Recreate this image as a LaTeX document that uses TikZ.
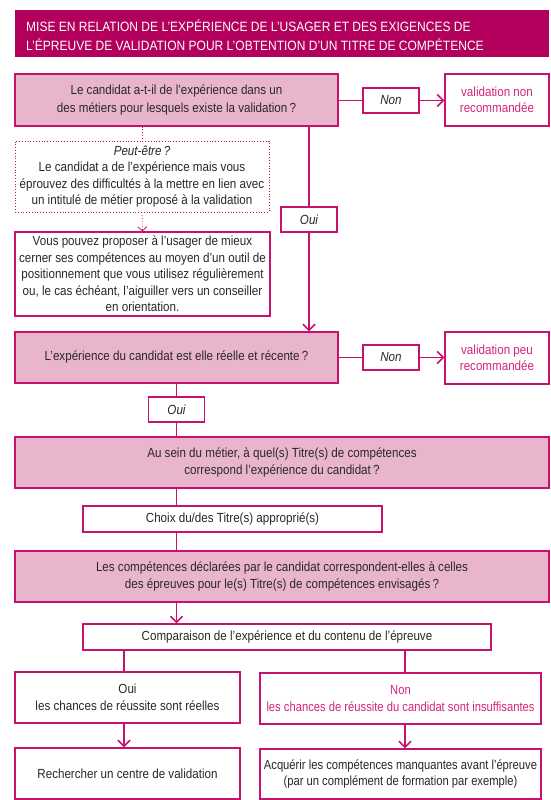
\documentclass[tikz,border=0pt]{standalone}
\usepackage{fontspec}
\setmainfont{Liberation Sans}[FakeStretch=0.88]
\newfontfamily\titlefont{Liberation Sans}[FakeStretch=0.89]
\newfontfamily\narrowfont{Liberation Sans}[FakeStretch=0.85]
\usetikzlibrary{arrows.meta}
\definecolor{mag}{RGB}{200,16,110}
\definecolor{titlebg}{RGB}{178,0,92}
\definecolor{pinkfill}{RGB}{233,181,204}
\definecolor{pinktext}{RGB}{214,36,124}
\definecolor{txt}{RGB}{40,40,40}
\tikzset{
  base/.style={draw=mag, line width=1.3pt, rectangle, inner sep=2pt, align=center,
    text=txt, font=\fontsize{13.2}{16.5}\selectfont, anchor=center},
  qbox/.style={base, fill=pinkfill},
  wbox/.style={base, fill=white},
  dbox/.style={base, fill=white, draw=mag, line width=0.8pt, dotted},
  lbl/.style={base, fill=white, font=\fontsize{13.2}{16.5}\selectfont\itshape},
  redtext/.style={text=pinktext},
  conn/.style={draw=mag, line width=1.8pt},
  arr/.style={conn, -{Straight Barb[length=6pt,width=12pt,line width=1.6pt]}},
  darr/.style={draw=mag, line width=0.8pt, dotted, -{Straight Barb[length=4pt,width=9pt,line width=0.8pt]}},
}
\begin{document}
\begin{tikzpicture}[x=1pt,y=-1pt]
\useasboundingbox (0,0) rectangle (550,800);
% title
\fill[titlebg] (15,10) rectangle (549,57);
\node[anchor=west, align=left, text=white, inner sep=0pt,
  font=\titlefont\fontsize{13.5}{19.5}\selectfont] (title) at (26,35)
  {MISE EN RELATION DE L’EXPÉRIENCE DE L’USAGER ET DES EXIGENCES DE\\
   L’ÉPREUVE DE VALIDATION POUR L’OBTENTION D’UN TITRE DE COMPÉTENCE};

% row 1
\node[qbox, minimum width=323pt, minimum height=52pt, font=\fontsize{13.2}{18}\selectfont] (q1) at (176.5,100)
  {Le candidat a-t-il de l’expérience dans un\\des métiers pour lesquels existe la validation\,?};
\node[lbl, minimum width=56pt, minimum height=25pt] (non1) at (391,100.5) {Non};
\node[wbox, redtext, minimum width=104pt, minimum height=52pt] (val1) at (497,100)
  {validation non\\recommandée};

% dotted box and advice
\node[dbox, minimum width=254pt, minimum height=71pt, inner xsep=1pt] (maybe) at (142,176.5)
  {\textit{Peut-être\,?}\\Le candidat a de l’expérience mais vous\\éprouvez des difficultés à la mettre en lien avec\\un intitulé de métier proposé à la validation};
\node[wbox, minimum width=255pt, minimum height=84pt] (advice) at (142.5,274)
  {Vous pouvez proposer à l’usager de mieux\\cerner ses compétences au moyen d’un outil de\\positionnement que vous utilisez régulièrement\\ou, le cas échéant, l’aiguiller vers un conseiller\\en orientation.};
\node[lbl, minimum width=56pt, minimum height=25pt] (oui1) at (309,219.5) {Oui};

% row 2
\node[qbox, minimum width=323pt, minimum height=51pt] (q2) at (176.5,357.5)
  {L’expérience du candidat est elle réelle et récente\,?};
\node[lbl, minimum width=56pt, minimum height=25pt] (non2) at (391,357.5) {Non};
\node[wbox, redtext, minimum width=104pt, minimum height=52pt] (val2) at (497,358)
  {validation peu\\recommandée};
\node[lbl, minimum width=56pt, minimum height=25pt] (oui2) at (176.5,409.5) {Oui};

% rows 3-5
\node[qbox, minimum width=534pt, minimum height=51pt] (q3) at (282,462.5)
  {Au sein du métier, à quel(s) Titre(s) de compétences\\correspond l’expérience du candidat\,?};
\node[wbox, minimum width=299pt, minimum height=26pt] (choix) at (232.5,519)
  {Choix du/des Titre(s) approprié(s)};
\node[qbox, minimum width=534pt, minimum height=51pt] (q4) at (282,576.5)
  {Les compétences déclarées par le candidat correspondent-elles à celles\\des épreuves pour le(s) Titre(s) de compétences envisagés\,?};
\node[wbox, minimum width=408pt, minimum height=26pt] (comp) at (287,637)
  {Comparaison de l’expérience et du contenu de l’épreuve};

% outcomes
\node[wbox, minimum width=225pt, minimum height=51pt] (yes) at (127.5,697.5)
  {Oui\\les chances de réussite sont réelles};
\node[wbox, redtext, minimum width=281pt, minimum height=51pt, inner xsep=0pt,
  font=\narrowfont\fontsize{13.2}{16.5}\selectfont] (no) at (400.5,698.5)
  {Non\\les chances de réussite du candidat sont insuffisantes};
\node[wbox, minimum width=225pt, minimum height=51pt] (yesnext) at (127.5,773.5)
  {Rechercher un centre de validation};
\node[wbox, minimum width=281pt, minimum height=50pt, inner xsep=0pt,
  font=\narrowfont\fontsize{13.2}{16.5}\selectfont] (nonext) at (400.5,774)
  {Acquérir les compétences manquantes avant l’épreuve\\(par un complément de formation par exemple)};

% connectors
\coordinate (lx) at (124,0);
\coordinate (rx) at (405,0);
\coordinate (mx) at (176.5,0);
\draw[conn] (q1.east |- non1.west) -- (non1.west);
\draw[arr] (non1.east) -- (val1.west |- non1.east);
\draw[conn] (q1.south -| oui1) -- (oui1.north);
\draw[arr] (oui1.south) -- (oui1.south |- q2.north);
\draw[draw=mag, line width=0.8pt, dotted] (q1.south -| maybe) -- (maybe.north);
\draw[darr] (maybe.south) -- (advice.north);
\draw[conn] (q2.east |- non2.west) -- (non2.west);
\draw[arr] (non2.east) -- (val2.west |- non2.east);
\draw[conn] (mx |- q2.south) -- (mx |- oui2.north);
\draw[conn] (mx |- oui2.south) -- (mx |- q3.north);
\draw[conn] (mx |- q3.south) -- (mx |- choix.north);
\draw[conn] (mx |- choix.south) -- (mx |- q4.north);
\draw[arr] (mx |- q4.south) -- (mx |- comp.north);
\draw[conn] (lx |- comp.south) -- (lx |- yes.north);
\draw[conn] (rx |- comp.south) -- (rx |- no.north);
\draw[arr] (lx |- yes.south) -- (lx |- yesnext.north);
\draw[arr] (rx |- no.south) -- (rx |- nonext.north);
\end{tikzpicture}
\end{document}
